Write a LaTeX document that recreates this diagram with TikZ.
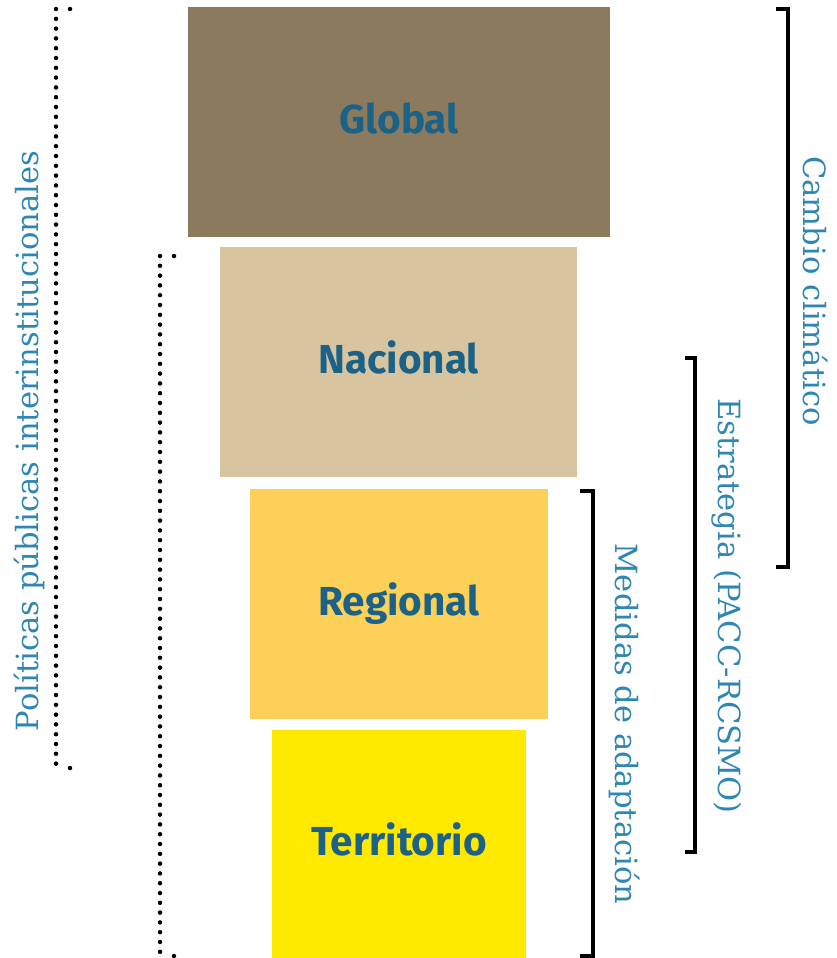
\documentclass[tikz,border=0pt]{standalone}
\usepackage{fontspec}
\setmainfont{DejaVu Serif}
\newfontfamily\boxfont{Fira Sans}
\definecolor{cglobal}{HTML}{8C7A5E}
\definecolor{cnacional}{HTML}{D9C4A0}
\definecolor{cregional}{HTML}{FDD157}
\definecolor{cterritorio}{HTML}{FFE900}
\definecolor{labelcol}{HTML}{1B6286}
\definecolor{sidecol}{HTML}{2E86B5}
\begin{document}
\begin{tikzpicture}[x=1pt,y=-1pt,
  levelbox/.style={draw=none, inner sep=0pt, minimum height=230pt,
    text height=22pt, text depth=0pt,
    font=\boxfont\bfseries\fontsize{40.5}{42}\selectfont, text=labelcol},
  sidelabel/.style={inner sep=0pt, font=\fontsize{30.6}{33}\selectfont, text=sidecol},
  solidbracket/.style={line width=3.2pt, line join=miter},
  dotbracket/.style={line width=4.5pt, line cap=round, dash pattern=on 0pt off 9.8pt},
  tickdot/.style={fill=black}
]
\useasboundingbox (0,0) rectangle (836,958);

% level boxes
\node[levelbox, fill=cglobal, minimum width=422pt] (global) at (399,122) {Global};
\node[levelbox, fill=cnacional, minimum width=357pt] (nacional) at (398.5,362) {Nacional};
\node[levelbox, fill=cregional, minimum width=298pt] (regional) at (399,604) {Regional};
\node[levelbox, fill=cterritorio, minimum width=254pt, minimum height=228pt] (territorio) at (399,844) {Territorio};

% left dotted brackets
\coordinate (pt) at (56,9);
\coordinate (pb) at (56,768);
\draw[dotbracket] (pt) -- (pb);
\fill[tickdot] (70,9) circle (2.25pt);
\fill[tickdot] (70,768) circle (2.25pt);
\node[sidelabel, rotate=90] (politicas) at (29,441) {Políticas públicas interinstitucionales};

\coordinate (st) at (160,256);
\coordinate (sb) at (160,956);
\draw[dotbracket] (st) -- (sb);
\fill[tickdot] (174,256) circle (2.25pt);
\fill[tickdot] (174,956) circle (2.25pt);

% right solid brackets
\coordinate (ct) at (776,9);
\coordinate (cb) at (776,567);
\draw[solidbracket] (ct) -- (788,9) -- (788,567) -- (cb);
\node[sidelabel, rotate=-90] (cambio) at (816,291) {Cambio climático};

\coordinate (et) at (685,358);
\coordinate (eb) at (685,852);
\draw[solidbracket] (et) -- (695,358) -- (695,852) -- (eb);
\node[sidelabel, rotate=-90] (estrategia) at (727,606) {Estrategia (PACC-RCSMO)};

\coordinate (mt) at (580,491);
\coordinate (mb) at (580,956);
\draw[solidbracket] (mt) -- (593,491) -- (593,956) -- (mb);
\node[sidelabel, rotate=-90] (medidas) at (625,724) {Medidas de adaptación};
\end{tikzpicture}
\end{document}
